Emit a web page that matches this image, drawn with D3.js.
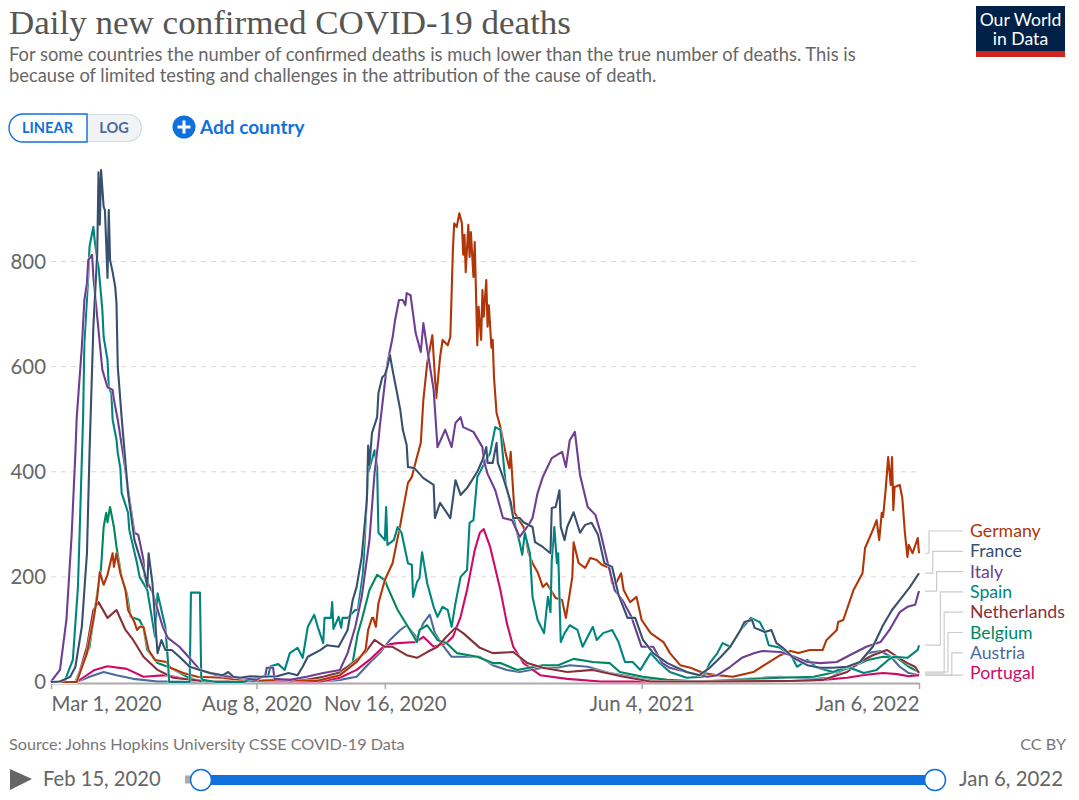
<!DOCTYPE html>
<html>
<head>
<meta charset="utf-8">
<script src="https://cdn.jsdelivr.net/npm/d3@7"></script>
<style>
  html, body { margin: 0; padding: 0; background: #fff; }
  svg { display: block; font-family: Lato, sans-serif; }
  .ticks text { font-size: 20.4px; fill: #666; }
</style>
</head>
<body>
<svg id="chart" width="1079" height="800"></svg>
<script>
// values: [days since Mar 1 2020, daily deaths]
const germany = [[0,0],[20,0],[28,55],[33,118],[36,162],[38,209],[41,185],[44,204],[48,245],[49,219],[51,245],[54,207],[58,175],[60,137],[65,114],[67,99],[69,105],[72,105],[76,61],[81,42],[90,38],[93,27],[103,17],[114,10],[134,8],[153,2],[186,4],[207,2],[225,13],[238,38],[245,61],[247,99],[250,122],[251,122],[253,105],[255,150],[260,194],[266,226],[272,299],[278,379],[281,390],[285,428],[288,455],[290,537],[293,607],[297,660],[300,540],[303,618],[305,651],[309,641],[311,657],[313,822],[314,873],[316,866],[318,892],[320,873],[321,813],[322,851],[323,780],[325,870],[326,809],[327,856],[329,771],[330,837],[332,641],[333,714],[335,651],[336,746],[337,695],[339,765],[340,676],[341,717],[343,636],[344,651],[345,580],[347,512],[350,485],[354,436],[357,407],[358,438],[361,322],[368,295],[372,245],[375,226],[379,209],[383,181],[386,188],[393,160],[398,156],[401,122],[406,200],[407,266],[411,226],[416,217],[420,236],[425,232],[429,223],[435,217],[437,188],[440,188],[444,207],[446,175],[451,152],[456,162],[460,118],[467,93],[477,76],[482,55],[490,32],[498,27],[508,17],[519,13],[531,10],[547,19],[558,36],[568,51],[576,59],[582,55],[591,61],[601,61],[604,80],[612,99],[613,114],[617,118],[625,175],[632,207],[634,255],[640,289],[643,308],[645,270],[647,322],[648,314],[650,365],[652,428],[654,375],[655,428],[656,327],[657,371],[661,375],[663,350],[665,284],[667,238],[668,261],[671,245],[675,274],[676,245]]

const france = [[0,0],[7,1],[15,10],[19,29],[24,105],[28,245],[30,436],[33,676],[36,816],[37,970],[38,870],[39,974],[41,904],[42,898],[44,769],[45,898],[46,803],[48,780],[50,752],[51,721],[52,600],[55,504],[60,360],[65,270],[69,238],[73,207],[75,181],[76,245],[79,188],[81,118],[83,55],[86,80],[89,61],[94,61],[100,48],[108,29],[116,23],[124,17],[134,13],[138,19],[142,10],[147,8],[155,11],[163,10],[176,11],[185,17],[192,13],[196,29],[200,48],[210,61],[215,70],[224,67],[231,99],[235,156],[238,181],[242,238],[246,346],[247,450],[248,413],[250,474],[254,504],[255,550],[258,580],[260,584],[262,600],[264,622],[266,594],[269,556],[272,518],[274,480],[277,451],[278,409],[283,407],[290,388],[298,375],[299,312],[303,341],[311,312],[315,384],[319,356],[324,369],[332,400],[336,422],[339,447],[340,417],[344,417],[347,455],[348,417],[352,390],[358,343],[360,312],[365,312],[368,304],[375,295],[377,266],[383,257],[389,245],[390,331],[393,333],[396,365],[397,295],[400,270],[402,295],[407,323],[412,284],[416,299],[421,303],[426,280],[431,226],[437,219],[442,166],[449,122],[455,122],[461,80],[469,55],[480,36],[495,19],[505,13],[513,27],[521,46],[529,67],[537,99],[540,114],[546,118],[548,103],[556,95],[561,99],[565,74],[570,65],[578,46],[589,32],[599,27],[609,27],[620,29],[630,38],[640,67],[648,108],[655,137],[661,156],[669,181],[676,207]]

const italy = [[0,0],[1,4],[7,23],[12,118],[16,276],[19,436],[20,502],[24,637],[26,727],[28,759],[29,803],[32,813],[33,771],[36,695],[40,594],[44,561],[48,556],[49,537],[52,499],[56,436],[62,333],[65,284],[68,280],[72,232],[73,200],[79,171],[87,105],[91,84],[100,67],[107,48],[116,23],[129,13],[147,8],[160,4],[167,13],[168,27],[173,27],[174,6],[186,4],[199,10],[212,17],[225,23],[231,55],[237,105],[242,162],[248,270],[252,398],[255,460],[256,485],[260,569],[262,607],[266,655],[268,689],[271,727],[274,727],[276,717],[277,740],[280,736],[284,664],[288,628],[290,683],[294,618],[298,556],[301,447],[307,480],[312,447],[315,493],[319,504],[321,485],[329,476],[336,447],[337,422],[340,396],[346,365],[352,312],[359,308],[365,276],[372,299],[375,312],[379,360],[383,390],[390,426],[398,438],[401,409],[404,460],[408,476],[412,394],[418,333],[424,318],[428,284],[433,232],[439,175],[445,156],[452,124],[460,67],[469,67],[476,36],[482,27],[498,17],[511,10],[519,13],[529,29],[538,46],[548,55],[554,59],[568,57],[576,51],[589,38],[599,36],[612,38],[622,51],[635,67],[646,76],[653,99],[661,133],[667,143],[673,147],[676,173]]

const spain = [[0,0],[5,0],[11,4],[17,42],[21,181],[23,341],[25,504],[26,645],[29,771],[30,828],[32,854],[33,866],[34,841],[36,803],[37,790],[40,708],[41,657],[44,613],[45,561],[47,550],[48,499],[51,461],[52,436],[54,407],[55,360],[60,322],[61,289],[67,226],[69,200],[75,175],[81,86],[83,169],[89,105],[91,42],[92,0],[108,0],[109,170],[116,170],[117,8],[118,4],[129,0],[150,0],[160,8],[169,11],[171,30],[177,34],[182,23],[186,55],[192,65],[196,46],[200,105],[205,128],[208,103],[212,74],[213,122],[218,122],[219,152],[220,101],[224,124],[226,103],[227,122],[231,122],[237,137],[239,137],[243,207],[247,398],[252,441],[254,409],[255,284],[260,270],[261,333],[262,261],[267,270],[270,295],[273,284],[278,226],[281,223],[282,162],[285,190],[287,198],[289,247],[293,188],[298,143],[301,124],[305,143],[309,137],[312,105],[315,150],[319,200],[324,213],[326,303],[329,308],[332,390],[336,409],[342,436],[346,485],[350,480],[354,379],[360,314],[365,265],[367,242],[369,284],[373,245],[375,162],[379,118],[384,93],[387,162],[389,133],[390,232],[392,295],[394,226],[395,245],[397,76],[400,93],[404,108],[410,99],[414,67],[422,105],[425,80],[430,93],[437,99],[442,76],[447,38],[453,38],[459,23],[467,55],[474,36],[482,19],[495,8],[508,10],[513,36],[519,55],[523,74],[529,67],[537,99],[545,122],[552,114],[556,95],[559,70],[568,65],[577,48],[581,29],[589,42],[597,27],[609,19],[620,29],[633,17],[643,23],[652,42],[656,48],[667,46],[675,61],[676,70]]

const netherlands = [[0,0],[20,0],[28,67],[33,137],[37,152],[44,122],[51,137],[58,99],[64,80],[72,48],[83,23],[95,8],[122,1],[163,2],[173,4],[186,1],[199,4],[212,10],[223,17],[233,32],[245,57],[252,80],[260,67],[266,67],[277,51],[285,46],[293,57],[301,67],[308,86],[315,103],[321,93],[334,65],[344,55],[360,57],[371,36],[383,27],[402,19],[422,23],[446,10],[467,1],[506,1],[576,2],[601,4],[620,19],[630,38],[640,51],[651,61],[659,48],[667,36],[673,29],[676,17]]

const belgium = [[0,0],[19,0],[30,67],[36,169],[39,217],[41,295],[43,322],[44,304],[46,333],[49,295],[51,257],[55,200],[59,169],[62,124],[69,118],[72,103],[75,61],[83,36],[93,27],[106,10],[116,1],[163,1],[210,6],[225,17],[235,38],[239,93],[242,118],[248,175],[254,204],[260,194],[262,181],[270,137],[278,105],[285,76],[287,99],[293,108],[301,80],[308,74],[316,55],[332,48],[344,36],[350,36],[363,23],[383,32],[395,32],[407,44],[422,38],[435,36],[443,19],[461,10],[480,4],[506,1],[568,8],[594,10],[611,19],[624,29],[636,42],[648,48],[659,46],[668,29],[676,19]]

const austria = [[0,0],[20,0],[30,10],[41,19],[51,13],[64,6],[83,1],[178,1],[210,1],[225,4],[238,10],[248,36],[256,55],[264,80],[272,99],[277,108],[285,84],[290,112],[295,128],[299,93],[305,70],[312,48],[324,48],[334,48],[344,32],[355,23],[365,19],[383,27],[394,27],[404,32],[418,29],[435,17],[453,10],[472,4],[506,1],[568,10],[594,6],[607,8],[617,23],[628,32],[636,55],[646,59],[654,48],[661,29],[668,17],[676,13]]

const portugal = [[0,0],[20,0],[26,10],[34,23],[44,30],[59,25],[72,10],[90,13],[108,4],[126,1],[178,1],[210,1],[225,8],[238,23],[248,42],[258,65],[264,72],[270,74],[284,76],[290,86],[298,67],[308,74],[313,86],[319,124],[324,175],[330,251],[334,284],[337,291],[342,257],[350,175],[355,112],[360,67],[368,36],[381,13],[402,6],[428,1],[461,1],[576,2],[601,4],[620,8],[632,13],[648,17],[659,15],[668,11],[676,13]]

const legendNames = ["Germany", "France", "Italy", "Spain", "Netherlands", "Belgium", "Austria", "Portugal"]
const legendValues = [germany, france, italy, spain, netherlands, belgium, austria, portugal]
const lineColors = ["#B13507", "#38506F", "#6D3E91", "#00847E", "#883039", "#00875E", "#4C6A9C", "#CF0A66"]
// bottom to top
const drawOrder = ["Austria", "Portugal", "Belgium", "Netherlands", "Germany", "Spain", "Italy", "France"]

const yTicks = [0, 200, 400, 600, 800]
const xTickDates = ["2020-03-01", "2020-08-08", "2020-11-16", "2021-06-04", "2022-01-06"]

const title = "Daily new confirmed COVID-19 deaths"
const subtitle = ["For some countries the number of confirmed deaths is much lower than the true number of deaths. This is",
  "because of limited testing and challenges in the attribution of the cause of death."]
const source = "Source: Johns Hopkins University CSSE COVID-19 Data"

const svg = d3.select("#chart")
const firstDay = new Date(Date.UTC(2020, 2, 1))
const toDate = day => d3.utcDay.offset(firstDay, day)

const x = d3.scaleUtc().domain([firstDay, new Date(Date.UTC(2022, 0, 6))]).range([51, 919])
const y = d3.scaleLinear().domain([0, 800]).range([682, 261.6])

// header
svg.append("text").attr("x", 9).attr("y", 34)
  .attr("textLength", 562).attr("lengthAdjust", "spacingAndGlyphs")
  .style("font-family", "'Liberation Serif', serif").style("font-size", "33px").attr("fill", "#555")
  .text(title)
svg.selectAll("text.sub").data(subtitle).enter().append("text").attr("class", "sub")
  .attr("x", 9).attr("y", (d, i) => 61 + i * 21)
  .style("font-size", "18.35px").attr("fill", "#666")
  .text(d => d)

// logo
svg.append("rect").attr("x", 976).attr("y", 6).attr("width", 89).attr("height", 51).attr("fill", "#002147")
svg.append("rect").attr("x", 976).attr("y", 51).attr("width", 89).attr("height", 6).attr("fill", "#CE261E")
svg.selectAll("text.logo").data(["Our World", "in Data"]).enter().append("text").attr("class", "logo")
  .attr("x", 1020.5).attr("y", (d, i) => 26 + i * 19)
  .attr("text-anchor", "middle").style("font-size", "17.6px").attr("fill", "#fff")
  .text(d => d)

// linear / log toggle
svg.append("path").attr("d", "M87,114.5H128a13.5,13.5 0 0 1 0,27H87Z").attr("fill", "#f2f3f5").attr("stroke", "#d5dae3").attr("stroke-width", 1.2)
svg.append("path").attr("d", "M87,114H23a14,14 0 0 0 0,28H87Z").attr("fill", "#fff").attr("stroke", "#1071DD").attr("stroke-width", 1.4)
svg.append("text").attr("x", 47.5).attr("y", 133).attr("text-anchor", "middle")
  .style("font-size", "14.6px").style("font-weight", 700).attr("fill", "#1071DD").text("LINEAR")
svg.append("text").attr("x", 114).attr("y", 133).attr("text-anchor", "middle")
  .style("font-size", "14.6px").style("font-weight", 700).attr("fill", "#4C6A9C").text("LOG")

// add country
svg.append("circle").attr("cx", 184).attr("cy", 127).attr("r", 11.5).attr("fill", "#1071DD")
svg.append("path").attr("d", "M184,120.5V133.5M177.5,127H190.5").attr("stroke", "#fff").attr("stroke-width", 3)
svg.append("text").attr("x", 200).attr("y", 133.5)
  .style("font-size", "19px").style("font-weight", 700).attr("fill", "#1071DD").text("Add country")

// axes
const yAxis = d3.axisLeft(y).tickValues(yTicks).tickSize(0).tickPadding(5)
const yG = svg.append("g").attr("class", "ticks").attr("transform", "translate(51,0)").call(yAxis)
yG.select(".domain").remove()
yG.selectAll(".tick text").style("font-family", "Lato, sans-serif")

svg.append("g").selectAll("line").data(yTicks.filter(d => d > 0)).enter().append("line")
  .attr("x1", 51).attr("x2", 919).attr("y1", d => y(d)).attr("y2", d => y(d))
  .attr("stroke", "#d8d8d8").attr("stroke-dasharray", "5,5")

const xAxis = d3.axisBottom(x)
  .tickValues(xTickDates.map(d => new Date(d + "T00:00:00Z")))
  .tickFormat(d3.utcFormat("%b %-d, %Y"))
  .tickSize(6).tickSizeOuter(0).tickPadding(8)
const xG = svg.append("g").attr("class", "ticks").attr("transform", "translate(0,683)").call(xAxis)
xG.select(".domain").attr("stroke", "#aaa").attr("stroke-width", 2)
xG.selectAll(".tick line").attr("stroke", "#aaa").attr("stroke-width", 1.5)
xG.selectAll(".tick text").style("font-family", "Lato, sans-serif")
  .attr("text-anchor", (d, i) => i === 0 ? "start" : i === xTickDates.length - 1 ? "end" : "middle")

// lines
const line = d3.line().x(d => x(toDate(d[0]))).y(d => y(d[1]))
const ordered = drawOrder.map(name => {
  const i = legendNames.indexOf(name)
  return { name: name, values: legendValues[i], color: lineColors[i] }
})
const lines = svg.append("g").attr("fill", "none").attr("stroke-linejoin", "round")
ordered.forEach(s => {
  lines.append("path").attr("d", line(s.values)).attr("stroke", "#fff").attr("stroke-width", 3).attr("opacity", 0.7)
  lines.append("path").attr("d", line(s.values)).attr("stroke", s.color).attr("stroke-width", 2.1)
})

// legend and its connector lines
const legend = svg.append("g")
legendNames.forEach((name, i) => {
  const values = legendValues[i]
  const endY = y(values[values.length - 1][1])
  const labelY = 531 + i * 20.3
  const bendX = 929 + i * 3.8
  legend.append("path")
    .attr("d", i === 7 ? `M925,${endY}H963` : `M925,${endY}H${bendX}V${labelY}H963`)
    .attr("fill", "none").attr("stroke", "#ccc").attr("stroke-width", 1.2)
  legend.append("text").attr("x", 970).attr("y", labelY + 6)
    .style("font-size", "17.7px").attr("fill", lineColors[i]).text(name)
})

// footer
svg.append("text").attr("x", 9).attr("y", 750).style("font-size", "16.2px").attr("fill", "#777").text(source)
svg.append("text").attr("x", 1066).attr("y", 750).attr("text-anchor", "end").style("font-size", "16.2px").attr("fill", "#777").text("CC BY")

// timeline
svg.append("path").attr("d", "M10,769L32,779L10,790Z").attr("fill", "#666")
svg.append("text").attr("x", 43).attr("y", 786).style("font-size", "20.2px").attr("fill", "#666").text("Feb 15, 2020")
svg.append("rect").attr("x", 185).attr("y", 775.5).attr("width", 20).attr("height", 8).attr("fill", "#aaa")
svg.append("rect").attr("x", 201).attr("y", 775).attr("width", 734).attr("height", 10).attr("fill", "#1071DD")
svg.selectAll("circle.handle").data([201, 935]).enter().append("circle").attr("class", "handle")
  .attr("cx", d => d).attr("cy", 780).attr("r", 10.5)
  .attr("fill", "#fff").attr("stroke", "#1071DD").attr("stroke-width", 1.5)
svg.append("text").attr("x", 1063).attr("y", 786).attr("text-anchor", "end").style("font-size", "20.4px").attr("fill", "#666").text("Jan 6, 2022")
</script>
</body>
</html>
